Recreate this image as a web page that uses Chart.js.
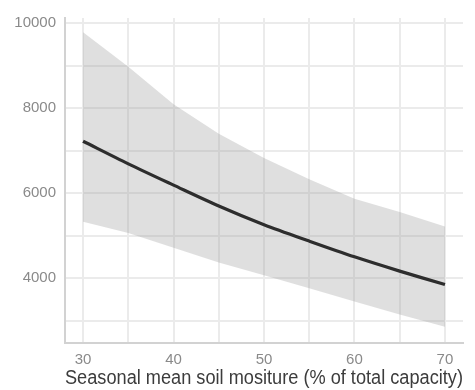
<!DOCTYPE html>
<html>
<head>
<meta charset="utf-8">
<script src="https://cdn.jsdelivr.net/npm/chart.js@4"></script>
<style>
  html, body { margin: 0; padding: 0; background: #fff; }
  #wrap { width: 475px; height: 390px; }
</style>
</head>
<body>
<div id="wrap"><canvas id="chart"></canvas></div>
<script>
const moisture = [30, 35, 40, 45, 50, 55, 60, 65, 70];
const fitted = [7220, 6690, 6190, 5700, 5260, 4875, 4505, 4170, 3855];
const upper = [9780, 8970, 8090, 7400, 6830, 6330, 5870, 5560, 5220];
const lower = [5330, 5065, 4720, 4375, 4070, 3765, 3455, 3150, 2860];
const xTicks = [30, 35, 40, 45, 50, 55, 60, 65, 70];
const yTicks = [3000, 4000, 5000, 6000, 7000, 8000, 9000, 10000];
const xTitle = 'Seasonal mean soil mositure (% of total capacity)';

const gridColor = '#ebebeb';
const axisColor = '#d2d2d2';
const tickColor = '#8a8a8a';
const font = 'Liberation Sans, Arial, sans-serif';

const pts = ys => moisture.map((x, i) => ({ x, y: ys[i] }));

new Chart(document.getElementById('chart'), {
    type: 'line',
    data: {
        datasets: [
            { data: pts(lower), borderWidth: 0, pointRadius: 0, fill: false },
            { data: pts(upper), borderWidth: 0, pointRadius: 0, fill: '-1', backgroundColor: 'rgba(150,150,150,0.3)' },
            { data: pts(fitted), borderColor: '#000', borderWidth: 3.2, pointRadius: 0, fill: false, tension: 0.3 }
        ]
    },
    options: {
        responsive: true,
        maintainAspectRatio: false,
        animation: false,
        layout: { padding: { top: 10, right: 12, left: 0, bottom: 0 } },
        plugins: { legend: { display: false }, tooltip: { enabled: false } },
        scales: {
            x: {
                type: 'linear', min: 28, max: 72,
                afterBuildTicks: s => { s.ticks = xTicks.map(v => ({ value: v })); },
                afterFit: s => { s.height = 47; },
                ticks: {
                    autoSkip: false, maxRotation: 0, padding: 8, color: tickColor, font: { family: font, size: 15 },
                    callback: v => v % 10 === 0 ? v : ''
                },
                grid: { color: gridColor, lineWidth: 2, drawTicks: false },
                border: { color: axisColor, width: 2 },
                title: { display: true, text: xTitle, color: '#3c3c3c', font: { family: font, size: 20 }, padding: { top: 0, bottom: 0 } }
            },
            y: {
                min: 2481, max: 10117,
                afterBuildTicks: s => { s.ticks = yTicks.map(v => ({ value: v })); },
                afterFit: s => { s.width = 65; },
                ticks: {
                    autoSkip: false, padding: 9, color: tickColor, font: { family: font, size: 15 },
                    callback: v => v % 2000 === 0 ? v : ''
                },
                grid: { color: gridColor, lineWidth: 2, drawTicks: false },
                border: { color: axisColor, width: 2 }
            }
        }
    }
});
</script>
</body>
</html>
